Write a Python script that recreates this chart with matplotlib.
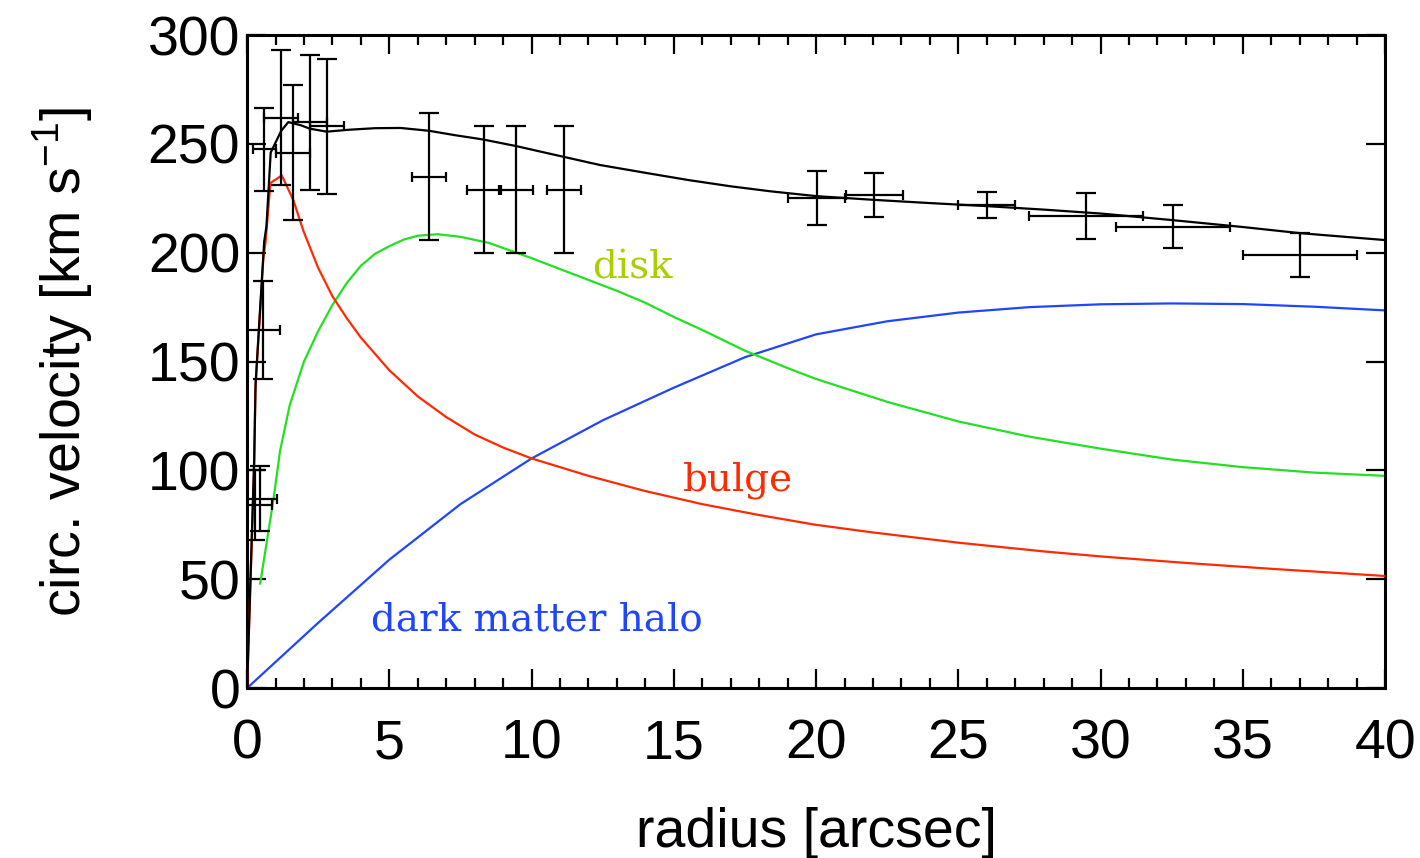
import matplotlib
matplotlib.use("Agg")
import matplotlib.pyplot as plt
from matplotlib import font_manager

# ---- data points with error bars ----
obs_r    = [0.28, 0.45, 0.56, 0.6, 1.2, 1.6, 2.21, 2.82, 6.4, 8.33, 9.45, 11.14, 20.03, 22.04, 26.0, 29.5, 32.55, 37.0]
obs_v    = [84, 87, 164.5, 247.5, 262, 246, 260, 258, 235, 229, 229, 229, 225, 226.5, 222, 217, 212, 199]
obs_rerr = [0.6, 0.6, 0.6, 0.4, 0.6, 0.6, 0.6, 0.6, 0.6, 0.6, 0.6, 0.6, 1.0, 1.0, 1.0, 2.0, 2.0, 2.0]
obs_verr = [16, 15, 22.5, 19, 31, 31, 31, 31, 29, 29, 29, 29, 12.5, 10, 6, 10.5, 10, 10]

# ---- model curves ----
tot_r = [0, 0.1, 0.25, 0.3, 0.6, 0.68, 0.83, 1.2, 1.45, 1.9, 2.2, 2.8, 3.6, 4.5, 5.4, 6.4, 7.3, 8.3,
         9.45, 11.14, 12.4, 14, 15.5, 17, 18.4, 20, 22, 24, 26, 28, 30, 32.5, 35, 37, 40]
tot_v = [0, 42, 105, 140, 205, 212, 246, 256, 260, 258.5, 257, 255.6, 256.5, 257.2, 257.3, 256, 254, 252,
         249, 244, 240.3, 236.7, 233.4, 230.5, 228.2, 226, 224.3, 222.8, 221.4, 219.8, 218, 215, 211.8, 209, 205.8]

bul_r = [0, 0.1, 0.25, 0.29, 0.57, 0.65, 0.82, 1.22, 1.63, 1.98, 2.5, 3, 3.5, 4, 5, 6, 7, 8, 9, 10,
         12, 14, 16, 18, 20, 22, 25, 28, 30, 33, 36, 40]
bul_v = [0, 40, 103, 137, 197, 205, 232, 235.5, 224, 210, 193, 180, 170, 161, 146, 134, 124.5, 116.5, 110.5, 105.5,
         97.5, 90.5, 84.5, 79.5, 75, 71.5, 66.8, 62.8, 60.5, 57.5, 54.8, 51.5]

dsk_r = [0.46, 0.92, 1.16, 1.5, 2, 2.5, 3, 3.5, 4, 4.5, 5, 5.5, 6, 6.7, 7.5, 8.5, 10, 11, 12, 13, 14,
         15, 16, 17.5, 19, 20, 22.5, 25, 27.5, 30, 32.5, 35, 37.5, 40]
dsk_v = [48, 86, 109, 130, 150, 164, 176, 186, 194, 199.5, 203, 206, 207.8, 208.5, 207.3, 204.5, 197.5, 192.5, 187.5, 182.5, 177,
         170.5, 164.5, 155, 147, 142, 131.5, 122.5, 115.5, 110, 105, 101.5, 99, 97.5]

hal_r = [0, 2.5, 5, 7.5, 10, 12.5, 15, 17.5, 20, 22.5, 25, 27.5, 30, 32.5, 35, 37.5, 40]
hal_v = [0, 30, 59, 84.5, 105.5, 123, 138, 152, 162.5, 168.5, 172.5, 175, 176.3, 176.7, 176.4, 175.2, 173.5]

x_ticks = [0, 5, 10, 15, 20, 25, 30, 35, 40]
y_ticks = [0, 50, 100, 150, 200, 250, 300]

RED = '#ff2a00'
GREEN = '#22e022'
BLUE = '#1f45ff'

names = {f.name for f in font_manager.fontManager.ttflist}
NARROW = 'Liberation Sans Narrow' if 'Liberation Sans Narrow' in names else 'Liberation Sans'
YLAB_SIZE = 48 if NARROW == 'Liberation Sans Narrow' else 40

plt.rcParams['font.family'] = ['Liberation Sans', 'DejaVu Sans']

fig = plt.figure(figsize=(14.2, 8.58), dpi=100)
ax = fig.add_axes([0.174, 0.198, 0.8014, 0.7612])

ax.plot(hal_r, hal_v, color=BLUE, lw=1.6, zorder=2)
ax.plot(dsk_r, dsk_v, color=GREEN, lw=1.6, zorder=2)
ax.plot(bul_r, bul_v, color=RED, lw=1.6, zorder=3)
ax.plot(tot_r, tot_v, color='black', lw=1.6, zorder=3)

ax.errorbar(obs_r, obs_v, yerr=obs_verr, fmt='none', ecolor='black',
            elinewidth=1.6, capsize=7, capthick=1.6, zorder=4)
ax.errorbar(obs_r, obs_v, xerr=obs_rerr, fmt='none', ecolor='black',
            elinewidth=1.6, capsize=3.5, capthick=1.6, zorder=4)

ax.text(13.53, 193, 'disk', color='#a8d000', fontsize=28, family='DejaVu Serif',
        ha='center', va='center')
ax.text(17.26, 95.6, 'bulge', color=RED, fontsize=28, family='DejaVu Serif',
        ha='center', va='center')
ax.text(10.19, 31.2, 'dark matter halo', color=BLUE, fontsize=28, family='DejaVu Serif',
        ha='center', va='center')

ax.set_xlim(0, 40)
ax.set_ylim(0, 300)
ax.set_xticks(x_ticks)
ax.set_yticks(y_ticks)
ax.set_xticks(range(0, 41), minor=True)
ax.tick_params(which='both', direction='in', top=True, right=True, labelsize=40, width=1.6)
ax.tick_params(which='major', length=14)
ax.tick_params(axis='x', which='major', pad=22)
ax.tick_params(axis='y', which='major', pad=5)
ax.tick_params(which='minor', length=7)
for s in ax.spines.values():
    s.set_linewidth(2.2)

ax.set_xlabel('radius [arcsec]', fontsize=40, labelpad=26)
ax.set_ylabel('circ. velocity [km s$^{\\mathregular{-1}}$]', fontsize=YLAB_SIZE,
              family=NARROW, labelpad=38)

fig.savefig('out.png', dpi=100)
